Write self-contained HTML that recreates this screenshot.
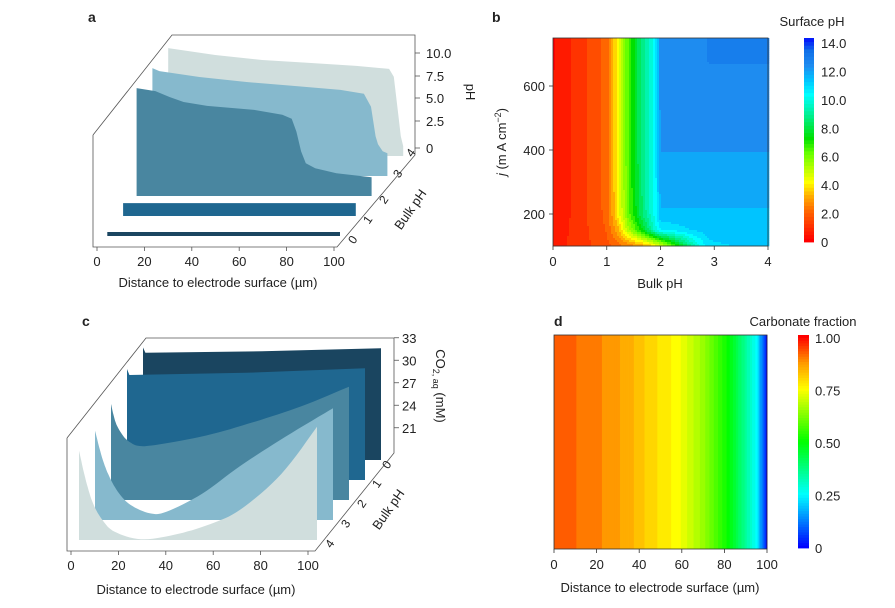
<!DOCTYPE html>
<html><head><meta charset="utf-8"><style>
html,body{margin:0;padding:0;background:#fff;}
svg{display:block;font-family:"Liberation Sans",sans-serif;}
text{fill:#222;}
</style></head><body>
<svg id="fig" width="895" height="608" viewBox="0 0 895 608" xmlns="http://www.w3.org/2000/svg">
<text x="88" y="22" font-size="14" font-weight="bold">a</text>
<text x="492" y="22" font-size="14" font-weight="bold">b</text>
<text x="82" y="326" font-size="14" font-weight="bold">c</text>
<text x="554" y="326" font-size="14" font-weight="bold">d</text>
<g id="ga"></g>
<g id="gb"></g>
<g id="gc"></g>
<g id="gd"></g>
</svg>
<script>
// ---- Panel a data: surface pH profiles per bulk pH ----
const aBulk = [0, 1, 2, 3, 4];
const aD0 = [1, 100];
const aV0 = [0.4, 0.4];
const aD1 = [1, 100];
const aV1 = [1.3, 1.3];
const aD2 = [0, 8, 14, 20, 30, 50, 62, 66, 68, 70, 72, 76, 85, 100];
const aV2 = [10.9, 10.6, 10.0, 9.5, 9.1, 8.7, 8.2, 7.8, 6.5, 4.5, 3.3, 2.8, 2.3, 1.9];
const aD3 = [0, 3, 20, 40, 60, 80, 90, 93, 95, 96, 98, 100];
const aV3 = [10.9, 10.6, 10.0, 9.5, 9.1, 8.7, 8.3, 7.0, 4.0, 3.2, 2.5, 2.3];
const aD4 = [0, 20, 40, 60, 80, 94, 96, 98, 99, 100];
const aV4 = [10.9, 10.2, 9.7, 9.4, 9.1, 8.8, 8.0, 4.0, 2.0, 1.0];
const aColors = ['#1a4560', '#1f6790', '#4986a0', '#86b9cd', '#d0dedd'];
const aXTicks = [0, 20, 40, 60, 80, 100];
const aZTicks = ['10.0', '7.5', '5.0', '2.5', '0'];

// ---- Panel c data: CO2 profiles per bulk pH ----
const cD0 = [0, 1, 50, 100];
const cV0 = [31.7, 31.0, 31.2, 31.6];
const cD1 = [0, 1, 50, 100];
const cV1 = [31.5, 30.7, 31.0, 31.6];
const cD2 = [0, 2, 5, 8, 12, 20, 40, 60, 80, 100];
const cV2 = [29.5, 27, 25.3, 24.4, 23.9, 24.1, 25.3, 27.1, 29.2, 31.8];
const cD3 = [0, 3, 6, 10, 15, 23, 30, 45, 61, 80, 100];
const cV3 = [28.6, 25, 22.5, 20.3, 18.7, 17.6, 17.8, 20.2, 23.9, 27.8, 31.6];
const cD4 = [0, 3, 6, 10, 15, 26, 40, 55, 68, 85, 100];
const cV4 = [28.6, 24.5, 21.5, 19.3, 17.8, 16.8, 17.4, 18.8, 20.8, 25.5, 31.8];
const cZTicks = [33, 30, 27, 24, 21];

// ---- Panel b data: surface pH map ----
const bBulk = [0, 0.5, 1.0, 1.2, 1.4, 1.7, 1.9, 2.0, 2.6, 2.9, 4.0];
const bJ = [100, 150, 200, 300, 450, 700, 750];
const bRow100 = [0.5, 1.0, 1.6, 2.0, 2.4, 3.0, 3.8, 4.5, 9.0, 10.6, 11.0];
const bRow150 = [0.4, 1.0, 1.8, 3.0, 5.0, 7.5, 9.5, 10.2, 10.8, 11.0, 11.1];
const bRow200 = [0.3, 1.0, 1.9, 3.8, 6.0, 8.5, 10.0, 11.2, 11.2, 11.2, 11.2];
const bRow300 = [0.3, 1.0, 2.0, 3.9, 6.2, 8.7, 10.0, 11.5, 11.5, 11.5, 11.5];
const bRow450 = [0.3, 1.0, 2.0, 4.0, 6.3, 8.8, 10.0, 11.9, 11.9, 11.9, 11.9];
const bRow700 = [0.2, 1.0, 2.0, 4.0, 6.3, 8.8, 10.0, 12.0, 12.0, 12.3, 12.3];
const bRow750 = [0.2, 1.0, 2.0, 4.0, 6.3, 8.8, 10.0, 12.0, 12.0, 12.3, 12.3];
const bXTicks = [0, 1, 2, 3, 4];
const bYTicks = [200, 400, 600];
const bCbTicks = ['0', '2.0', '4.0', '6.0', '8.0', '10.0', '12.0', '14.0'];

// ---- Panel d data: carbonate fraction vs distance ----
const dDist = [0, 18, 25, 35, 45, 58, 70, 82, 90, 95, 98, 100];
const dFrac = [0.93, 0.90, 0.88, 0.85, 0.80, 0.75, 0.65, 0.50, 0.35, 0.25, 0.10, 0.0];
const dXTicks = [0, 20, 40, 60, 80, 100];
const dCbTicks = ['0', '0.25', '0.50', '0.75', '1.00'];

const NS = 'http://www.w3.org/2000/svg';
function mk(tag, attrs, parent) {
  const e = document.createElementNS(NS, tag);
  for (const k in attrs) e.setAttribute(k, attrs[k]);
  parent.appendChild(e);
  return e;
}
function txt(parent, x, y, s, size, anchor, rot) {
  const t = mk('text', {x: x, y: y, 'font-size': size, 'text-anchor': anchor || 'middle'}, parent);
  if (rot) t.setAttribute('transform', 'rotate(' + rot + ' ' + x + ' ' + y + ')');
  t.textContent = s;
  return t;
}
function hex(c) { return [parseInt(c.slice(1,3),16), parseInt(c.slice(3,5),16), parseInt(c.slice(5,7),16)]; }
function cmap(stops, v) {
  if (v <= stops[0][0]) return stops[0][1];
  for (let i = 1; i < stops.length; i++) {
    if (v <= stops[i][0]) {
      const f = (v - stops[i-1][0]) / (stops[i][0] - stops[i-1][0]);
      const a = hex(stops[i-1][1]), b = hex(stops[i][1]);
      return 'rgb(' + a.map((x, k) => Math.round(x + (b[k]-x)*f)).join(',') + ')';
    }
  }
  return stops[stops.length-1][1];
}
function interp(xs, ys, x) {
  if (x <= xs[0]) return ys[0];
  for (let i = 1; i < xs.length; i++) if (x <= xs[i]) return ys[i-1] + (ys[i]-ys[i-1])*(x-xs[i-1])/(xs[i]-xs[i-1]);
  return ys[ys.length-1];
}
// Catmull-Rom smoothing of a pixel point list
function smooth(pts) {
  if (pts.length < 5) return pts;
  const out = [];
  for (let i = 0; i < pts.length - 1; i++) {
    const p0 = pts[Math.max(0, i-1)], p1 = pts[i], p2 = pts[i+1], p3 = pts[Math.min(pts.length-1, i+2)];
    for (let s = 0; s < 8; s++) {
      const t = s / 8, t2 = t*t, t3 = t2*t;
      const f = (a, b, c, d) => 0.5 * (2*b + (-a + c)*t + (2*a - 5*b + 4*c - d)*t2 + (-a + 3*b - 3*c + d)*t3);
      out.push([f(p0[0],p1[0],p2[0],p3[0]), f(p0[1],p1[1],p2[1],p3[1])]);
    }
  }
  out.push(pts[pts.length-1]);
  return out;
}

// ================= Panel a =================
const ga = document.getElementById('ga');
const pxA = (d, p) => 105 + 2.35 * d + 15.8 * p;
const pyA = (v, p) => 236 - 20 * p - 9.9 * v;
const aFrame = mk('polyline', {points: '93,135 172,35 415,35 415,155 337,247 93,247 93,135', fill: 'none', stroke: '#555', 'stroke-width': 0.8}, ga);


const aSets = [[aD0, aV0], [aD1, aV1], [aD2, aV2], [aD3, aV3], [aD4, aV4]];
for (let i = aSets.length - 1; i >= 0; i--) {
  const p = aBulk[i], D = aSets[i][0], V = aSets[i][1];
  let pts = D.map((d, k) => pxA(d, p).toFixed(1) + ',' + pyA(V[k], p).toFixed(1));
  pts.push(pxA(D[D.length-1], p).toFixed(1) + ',' + pyA(0, p).toFixed(1));
  pts.push(pxA(D[0], p).toFixed(1) + ',' + pyA(0, p).toFixed(1));
  const s = mk('polygon', {points: pts.join(' '), fill: aColors[i]}, ga);
  
  
}
aXTicks.forEach(t => {
  const x = 97 + 2.37 * t;
  mk('line', {x1: x, y1: 247, x2: x, y2: 251, stroke: '#555', 'stroke-width': 0.8}, ga);
  const l = txt(ga, x, 266, String(t), 13);
  
  
});
const aZY = [53, 76, 98, 121, 148];
aZTicks.forEach((t, i) => {
  mk('line', {x1: 415, y1: aZY[i], x2: 420, y2: aZY[i], stroke: '#555', 'stroke-width': 0.8}, ga);
  const l = txt(ga, 426, aZY[i] + 5, t, 13, 'start');
  
  
});
const aBL = [[356,242],[371,222],[387,202],[401,176],[414,155]];
aBulk.forEach((b, i) => {
  const l = txt(ga, aBL[i][0], aBL[i][1], String(b), 12, 'middle', -55);
  
  
});
const aXT = txt(ga, 218, 287, 'Distance to electrode surface (µm)', 13);


const aBT = txt(ga, 414, 212, 'Bulk pH', 13, 'middle', -55);


const aZT = txt(ga, 466, 92, 'pH', 13, 'middle', 90);



// ================= Panel c =================
const gc = document.getElementById('gc');
const pxC = (d, p) => 143 - 16 * p + 2.38 * d;
const pyC = (v, p) => 460 + 20 * p - (v - 16.7) * 7.5;
const cFrame = mk('polyline', {points: '67,438 146,338 394,338 394,453 315,551 67,551 67,438', fill: 'none', stroke: '#555', 'stroke-width': 0.8}, gc);


const cSets = [[cD0, cV0], [cD1, cV1], [cD2, cV2], [cD3, cV3], [cD4, cV4]];
cSets.forEach((s0, i) => {
  const p = aBulk[i], D = s0[0], V = s0[1];
  const base = pyC(16.7, p);
  let raw = D.map((d, k) => [pxC(d, p), pyC(V[k], p)]);
  let sm = smooth(raw).map(q => [Math.max(raw[0][0], q[0]), Math.min(base, q[1])]);
  let pts = sm.map(q => q[0].toFixed(1) + ',' + q[1].toFixed(1));
  pts.push(pxC(D[D.length-1], p).toFixed(1) + ',' + base.toFixed(1));
  pts.push(pxC(D[0], p).toFixed(1) + ',' + base.toFixed(1));
  const s = mk('polygon', {points: pts.join(' '), fill: aColors[i]}, gc);
  
  
});
aXTicks.forEach(t => {
  const x = 71 + 2.37 * t;
  mk('line', {x1: x, y1: 551, x2: x, y2: 555, stroke: '#555', 'stroke-width': 0.8}, gc);
  const l = txt(gc, x, 570, String(t), 13);
  
  
});
cZTicks.forEach(t => {
  const y = pyC(t, 0);
  mk('line', {x1: 394, y1: y, x2: 399, y2: y, stroke: '#555', 'stroke-width': 0.8}, gc);
  const l = txt(gc, 402, y + 5, String(t), 13, 'start');
  
  
});
const cBL = [[390,467],[380,486],[365,506],[349,526],[333,546]];
aBulk.forEach((b, i) => {
  const l = txt(gc, cBL[i][0], cBL[i][1], String(b), 12, 'middle', -55);
  
  
});
const cXT = txt(gc, 196, 594, 'Distance to electrode surface (µm)', 13);


const cBT = txt(gc, 392, 512, 'Bulk pH', 13, 'middle', -55);


const cZT = mk('text', {x: 436, y: 386, 'font-size': 13, 'text-anchor': 'middle', transform: 'rotate(90 436 386)'}, gc);
cZT.innerHTML = 'CO<tspan font-size="9" dy="3">2, aq</tspan><tspan dy="-3"> (mM)</tspan>';



// ================= Panel b =================
const gb = document.getElementById('gb');
const bStops = [[0,'#ff0000'],[1,'#ff3300'],[2,'#ff6600'],[3,'#ffaa00'],[4,'#ffff00'],[6,'#66ff00'],[7,'#00e000'],[8.5,'#00ee88'],[10,'#00ffff'],[11,'#00c4ff'],[12,'#1e8cf0'],[13,'#1070e8'],[14,'#0000ff']];
const bL = 553, bR = 768, bT = 38, bB = 246;
const sxB = v => bL + (v / 4) * (bR - bL);
const syB = j => bB - (j - 100) / 650 * (bB - bT);
const bRows = [bRow100, bRow150, bRow200, bRow300, bRow450, bRow700, bRow750];
function bVal(x, j) {
  let r = 0;
  while (r < bJ.length - 2 && j > bJ[r+1]) r++;
  const f = Math.min(1, Math.max(0, (j - bJ[r]) / (bJ[r+1] - bJ[r])));
  return interp(bBulk, bRows[r], x) * (1 - f) + interp(bBulk, bRows[r+1], x) * f;
}
const bHeat = mk('g', {}, gb);


const step = 2;
for (let py = bT; py < bB; py += step) {
  for (let px = bL; px < bR; px += step) {
    const x = (px + step/2 - bL) / (bR - bL) * 4;
    const j = 100 + (bB - py - step/2) / (bB - bT) * 650;
    const v = Math.round(bVal(x, j) * 2) / 2;
    mk('rect', {x: px, y: py, width: step + 0.3, height: step + 0.3, fill: cmap(bStops, v)}, bHeat);
  }
}
mk('rect', {x: bL, y: bT, width: bR - bL, height: bB - bT, fill: 'none', stroke: '#333', 'stroke-width': 0.8}, gb);
bXTicks.forEach(t => {
  mk('line', {x1: sxB(t), y1: bB, x2: sxB(t), y2: bB + 4, stroke: '#333', 'stroke-width': 0.8}, gb);
  const l = txt(gb, sxB(t), 266, String(t), 13);
  
  
});
bYTicks.forEach(t => {
  mk('line', {x1: bL - 4, y1: syB(t), x2: bL, y2: syB(t), stroke: '#333', 'stroke-width': 0.8}, gb);
  const l = txt(gb, bL - 8, syB(t) + 5, String(t), 13, 'end');
  
  
});
const bXT = txt(gb, 660, 288, 'Bulk pH', 13);


const bYT = mk('text', {x: 506, y: 142, 'font-size': 13, 'text-anchor': 'middle', transform: 'rotate(-90 506 142)'}, gb);
bYT.innerHTML = '<tspan font-style="italic">j</tspan> (m A cm<tspan font-size="9" dy="-5">−2</tspan><tspan dy="5">)</tspan>';


const bCb = mk('g', {}, gb);


for (let i = 0; i < 56; i++) {
  const v = i * 0.25;
  mk('rect', {x: 804, y: 242 - (i + 1) * (204 / 56), width: 10, height: 204 / 56 + 0.4, fill: cmap(bStops, v)}, bCb);
}
bCbTicks.forEach((t, i) => {
  const l = txt(gb, 821, 242 - i * (199 / 7) + 5, t, 13, 'start');
  
  
});
const bCT = txt(gb, 812, 26, 'Surface pH', 13);



// ================= Panel d =================
const gd = document.getElementById('gd');
const dStops = [[0,'#0000ff'],[0.125,'#0080ff'],[0.25,'#00ffff'],[0.5,'#00ff00'],[0.75,'#ffff00'],[0.875,'#ff9900'],[1,'#ff0000']];
const dL = 554, dR = 767, dT = 335, dB = 549;
const sxD = d => dL + d / 100 * (dR - dL);
const dHeat = mk('g', {}, gd);


for (let d = 0; d < 100; d += 0.5) {
  const v = Math.round(interp(dDist, dFrac, d + 0.25) * 40) / 40;
  mk('rect', {x: sxD(d), y: dT, width: (dR - dL) / 200 + 0.4, height: dB - dT, fill: cmap(dStops, v)}, dHeat);
}
mk('rect', {x: dL, y: dT, width: dR - dL, height: dB - dT, fill: 'none', stroke: '#333', 'stroke-width': 0.8}, gd);
dXTicks.forEach(t => {
  mk('line', {x1: sxD(t), y1: dB, x2: sxD(t), y2: dB + 4, stroke: '#333', 'stroke-width': 0.8}, gd);
  const l = txt(gd, sxD(t), 569, String(t), 13);
  
  
});
const dXT = txt(gd, 660, 592, 'Distance to electrode surface (µm)', 13);


const dCb = mk('g', {}, gd);


for (let i = 0; i < 80; i++) {
  mk('rect', {x: 798, y: 548 - (i + 1) * (213 / 80), width: 11, height: 213 / 80 + 0.4, fill: cmap(dStops, i / 79)}, dCb);
}
dCbTicks.forEach((t, i) => {
  const l = txt(gd, 815, 548 - i * (210 / 4) + 5, t, 13, 'start');
  
  
});
const dCT = txt(gd, 803, 326, 'Carbonate fraction', 13);


</script>
</body></html>
